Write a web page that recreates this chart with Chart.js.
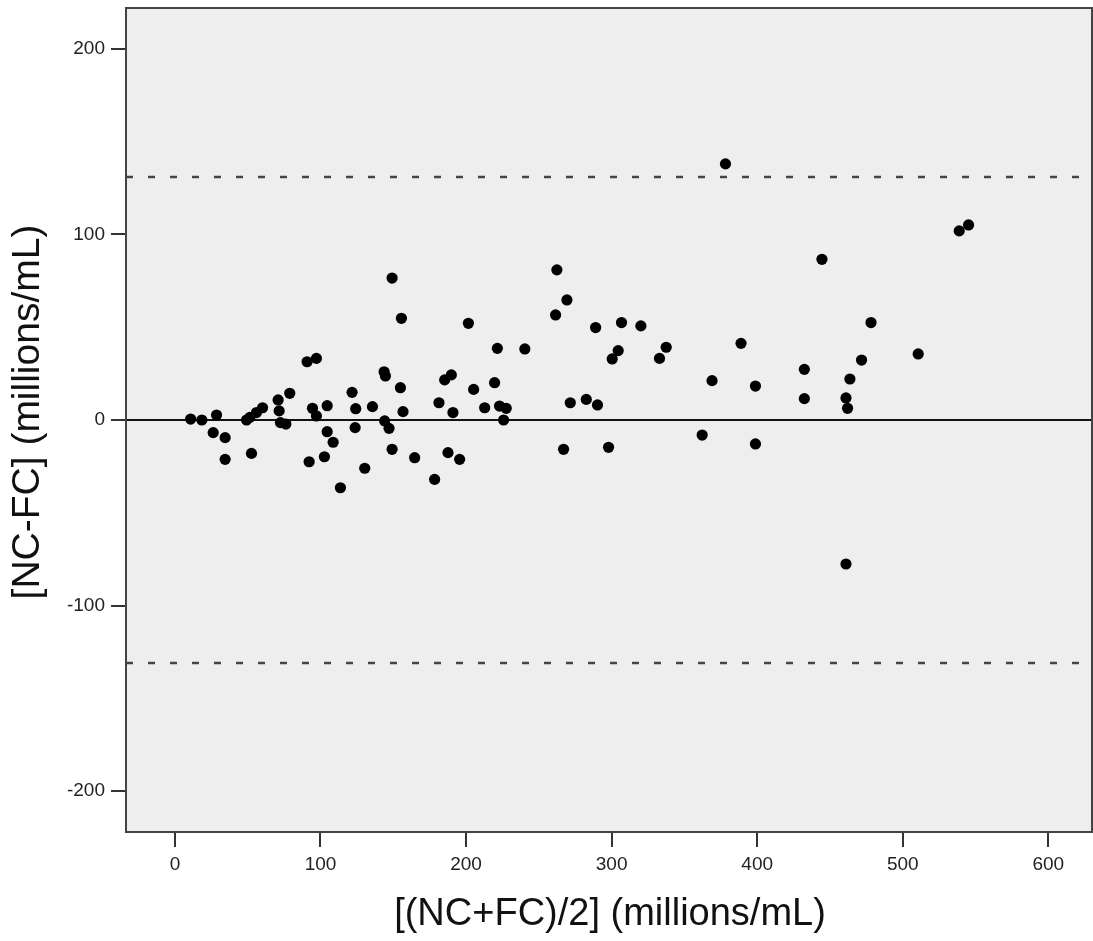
<!DOCTYPE html>
<html>
<head>
<meta charset="utf-8">
<script src="https://cdn.jsdelivr.net/npm/chart.js@4/dist/chart.umd.min.js"></script>
<style>
  html, body { margin: 0; padding: 0; background: #fff; }
  #wrap { width: 1093px; height: 941px; }
</style>
</head>
<body>
<div id="wrap"><canvas id="baChart" width="1093" height="941"></canvas></div>
<script>
// mean of the two methods (x) and their difference (y)
const meanValues = [
    10.8, 18.5, 28.6, 26.3, 34.5, 34.5, 49.2, 51.5, 52.6, 56,
    60.2, 70.9, 71.6, 72.5, 76.2, 78.9, 90.8, 97.2, 92.2, 94.5,
    97.2, 104.6, 104.6, 108.7, 102.7, 113.7, 121.7, 124.2, 123.8, 130.4,
    135.7, 143.7, 144.6, 144.1, 147.1, 155.6, 154.9, 156.7, 149.2, 164.7,
    178.4, 181.4, 185.3, 189.9, 191, 187.6, 195.6, 201.6, 205.2, 212.8,
    219.6, 221.5, 149.2, 223, 227.6, 225.8, 240.4, 262.4, 269.3, 261.5,
    267, 271.6, 282.6, 290.3, 289, 297.9, 300.4, 304.5, 306.8, 320.1,
    332.9, 337.5, 362.2, 369, 378.2, 388.9, 398.8, 398.8, 444.5, 432.4,
    432.4, 461, 462.1, 463.7, 471.7, 478.2, 510.6, 538.8, 545.2, 461
];
const diffValues = [
    0.5, 0, 2.7, -6.8, -9.5, -21.2, 0, 1.4, -18, 4,
    6.6, 10.8, 4.9, -1.4, -2.2, 14.4, 31.4, 33.2, -22.5, 6.3,
    2.2, 7.7, -6.3, -12, -19.8, -36.5, 14.9, 6.1, -4.1, -26,
    7.2, 26, 23.7, -0.5, -4.5, 54.8, 17.4, 4.5, -15.8, -20.3,
    -32, 9.3, 21.6, 24.3, 4, -17.6, -21.2, 52.1, 16.5, 6.6,
    20.1, 38.6, 76.5, 7.5, 6.3, 0, 38.3, 80.9, 64.7, 56.6,
    -15.8, 9.3, 11.1, 8.1, 49.8, -14.7, 32.9, 37.4, 52.5, 50.7,
    33.2, 39.2, -8.1, 21.2, 138, 41.3, 18.3, -12.9, 86.6, 27.3,
    11.5, 11.9, 6.3, 22.1, 32.3, 52.5, 35.6, 101.9, 105.1, -77.6
];

// reference lines: zero difference and limits of agreement
const zeroLine = 0;
const upperLimit = 131;
const lowerLimit = -131;

// axes
const xMin = -33.6, xMax = 630;
const yMin = -222, yMax = 222;
const xTicks = [0, 100, 200, 300, 400, 500, 600];
const yTicks = [-200, -100, 0, 100, 200];

const xTitle = '[(NC+FC)/2] (millions/mL)';
const yTitle = '[NC-FC] (millions/mL)';

const FONT = '"Liberation Sans", Arial, sans-serif';

const points = meanValues.map((m, i) => ({ x: m, y: diffValues[i] }));
const hLine = v => [{ x: xMin, y: v }, { x: xMax, y: v }];

// kill the automatic label padding so the plot box sits where the original is
function noPad(s) {
    s.paddingTop = 0;
    s.paddingBottom = 0;
    s.paddingLeft = 0;
    s.paddingRight = 0;
}

// grey plot area, frame and the two axis titles
const framePlugin = {
    id: 'frame',
    beforeDatasetsDraw(chart) {
        const { ctx, chartArea: a } = chart;
        ctx.save();
        ctx.fillStyle = '#eeeeee';
        ctx.fillRect(a.left, a.top, a.right - a.left, a.bottom - a.top);
        ctx.restore();
    },
    afterDraw(chart) {
        const { ctx, chartArea: a } = chart;
        ctx.save();
        ctx.strokeStyle = '#444';
        ctx.lineWidth = 2;
        ctx.strokeRect(a.left, a.top, a.right - a.left, a.bottom - a.top);

        ctx.fillStyle = '#111';
        ctx.textAlign = 'center';
        ctx.textBaseline = 'middle';
        ctx.font = '38px ' + FONT;
        ctx.fillText(xTitle, 610, 915);

        ctx.translate(28, 412);
        ctx.rotate(-Math.PI / 2);
        ctx.font = '39px ' + FONT;
        ctx.fillText(yTitle, 0, 0);
        ctx.restore();
    }
};

const ctx = document.getElementById('baChart').getContext('2d');
new Chart(ctx, {
    type: 'scatter',
    data: {
        datasets: [
            {
                label: 'points',
                data: points,
                pointRadius: 5.6,
                pointHoverRadius: 5.6,
                pointBackgroundColor: '#000',
                pointBorderWidth: 0,
                order: 0
            },
            {
                type: 'line',
                label: 'zero',
                data: hLine(zeroLine),
                borderColor: '#111',
                borderWidth: 2,
                pointRadius: 0,
                order: 2
            },
            {
                type: 'line',
                label: 'upper',
                data: hLine(upperLimit),
                borderColor: '#444',
                borderWidth: 2.5,
                borderDash: [7, 15],
                pointRadius: 0,
                order: 2
            },
            {
                type: 'line',
                label: 'lower',
                data: hLine(lowerLimit),
                borderColor: '#444',
                borderWidth: 2.5,
                borderDash: [7, 15],
                pointRadius: 0,
                order: 2
            }
        ]
    },
    options: {
        responsive: false,
        animation: false,
        layout: { autoPadding: false, padding: { top: 8, right: 1, left: 0, bottom: 0 } },
        plugins: {
            legend: { display: false },
            tooltip: { enabled: false }
        },
        scales: {
            x: {
                type: 'linear',
                min: xMin,
                max: xMax,
                afterBuildTicks: s => { s.ticks = xTicks.map(v => ({ value: v })); },
                afterFit: s => { s.height = 109; noPad(s); },
                border: { display: false },
                grid: {
                    drawOnChartArea: false,
                    drawTicks: true,
                    tickLength: 15,
                    tickColor: '#333',
                    lineWidth: 2
                },
                ticks: {
                    padding: 6,
                    color: '#222',
                    maxRotation: 0,
                    font: { family: FONT, size: 19 }
                }
            },
            y: {
                type: 'linear',
                min: yMin,
                max: yMax,
                afterBuildTicks: s => { s.ticks = yTicks.map(v => ({ value: v })); },
                afterFit: s => { s.width = 126; noPad(s); },
                border: { display: false },
                grid: {
                    drawOnChartArea: false,
                    drawTicks: true,
                    tickLength: 15,
                    tickColor: '#333',
                    lineWidth: 2
                },
                ticks: {
                    padding: 6,
                    color: '#222',
                    font: { family: FONT, size: 19 }
                }
            }
        }
    },
    plugins: [framePlugin]
});
</script>
</body>
</html>
